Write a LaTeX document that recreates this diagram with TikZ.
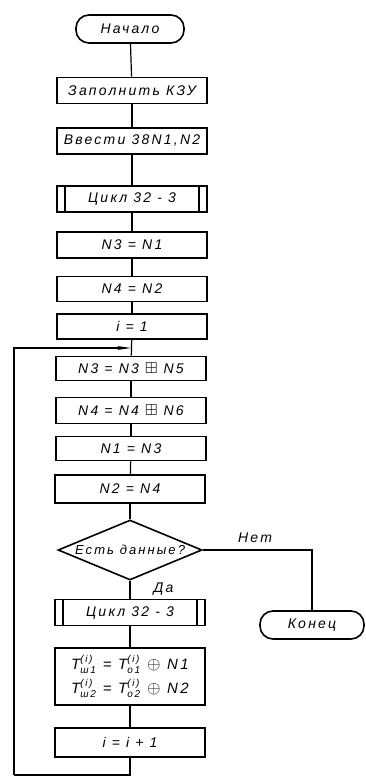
\documentclass[tikz,border=0pt]{standalone}
\usepackage{amssymb}
\usepackage{fontspec}
\newfontfamily\hand{Liberation Sans}[LetterSpace=16]
\usetikzlibrary{shapes.geometric,arrows.meta}
\newcommand{\Tq}[1]{$\mbox{T}^{\mbox{\fontsize{10}{10}\selectfont\hand\itshape (i)}}_{\mbox{\fontsize{10}{10}\selectfont\hand\itshape #1}}$}
\newcommand{\bplus}{{\fontsize{16}{16}\selectfont$\boxplus$}}
\newcommand{\cplus}{{\fontsize{16}{16}\selectfont$\oplus$}}
\tikzset{
  lbl/.style={font=\hand\itshape\fontsize{14}{16}\selectfont},
  box/.style={lbl, draw, line width=1.6pt, minimum width=150pt, minimum height=26pt, inner sep=1pt},
  term/.style={lbl, draw, line width=1.6pt, rounded corners=13pt, minimum height=28pt, inner sep=1pt},
  subr/.style={box, path picture={
      \draw[line width=1.6pt] ([xshift=8pt]path picture bounding box.north west) -- ([xshift=8pt]path picture bounding box.south west);
      \draw[line width=1.6pt] ([xshift=-8pt]path picture bounding box.north east) -- ([xshift=-8pt]path picture bounding box.south east);}},
  dec/.style={lbl, draw, line width=1.6pt, diamond, aspect=2.4, minimum width=144pt, minimum height=60pt, inner sep=0pt},
  conn/.style={line width=1.2pt}
}
\begin{document}
\begin{tikzpicture}[x=1pt,y=-1pt]
\useasboundingbox (0,0) rectangle (365,778);
\node[term, minimum width=108pt] (start) at (130,29) {Начало};
\node[box] (fill) at (132,90.5) {Заполнить КЗУ};
\node[box] (input) at (132,141) {Ввести 38N1,N2};
\node[subr] (cyc1) at (132,199) {Цикл 32 - 3};
\node[box] (a1) at (132,245) {N3 = N1};
\node[box, minimum height=25pt] (a2) at (132,289) {N4 = N2};
\node[box, minimum height=25pt] (a3) at (132,326.5) {i = 1};
\node[box, minimum height=24pt] (b1) at (131,368.5) {N3 = N3 \bplus\ N5};
\node[box] (b2) at (131,410.5) {N4 = N4 \bplus\ N6};
\node[box, minimum height=24pt] (b3) at (131,448.5) {N1 = N3};
\node[box, minimum height=28pt] (b4) at (130,489) {N2 = N4};
\node[dec, font=\hand\itshape\fontsize{13}{15}\selectfont] (q) at (130,550) {Есть данные?};
\node[subr] (cyc2) at (130,612.5) {Цикл 32 - 3};
\node[box, minimum height=57pt, align=center, font=\hand\itshape\fontsize{15}{17}\selectfont] (t) at (130,676.5) {\Tq{ш1} = \Tq{о1} \cplus\ N1\\[4pt] \Tq{ш2} = \Tq{о2} \cplus\ N2};
\node[box, minimum height=29pt] (inc) at (130,742.5) {i = i + 1};
\node[term, minimum width=104pt] (end) at (312,625) {Конец};
\node[lbl, anchor=south] (no) at (255,546) {Нет};
\node[lbl, anchor=west] (yes) at (150,589) {Да};
\coordinate (j) at (131,348);
\coordinate (bl) at (14,775);
\draw[conn] (start) -- (fill);
\draw[conn] (fill) -- (input);
\draw[conn] (input) -- (cyc1);
\draw[conn] (cyc1) -- (a1);
\draw[conn] (a1) -- (a2);
\draw[conn] (a2) -- (a3);
\draw[conn] (a3) -- (b1);
\draw[conn] (b1) -- (b2);
\draw[conn] (b2) -- (b3);
\draw[conn] (b3) -- (b4);
\draw[conn] (b4) -- (q);
\draw[conn] (q) -- (cyc2);
\draw[conn] (cyc2) -- (t);
\draw[conn] (t) -- (inc);
\draw[conn] (inc.south) -- (inc.south |- bl) -- (bl);
\draw[conn, -{Stealth[length=14pt,width=4pt]}] (bl) |- (j);
\draw[conn] (q.east) -| (end.north);
\end{tikzpicture}
\end{document}
